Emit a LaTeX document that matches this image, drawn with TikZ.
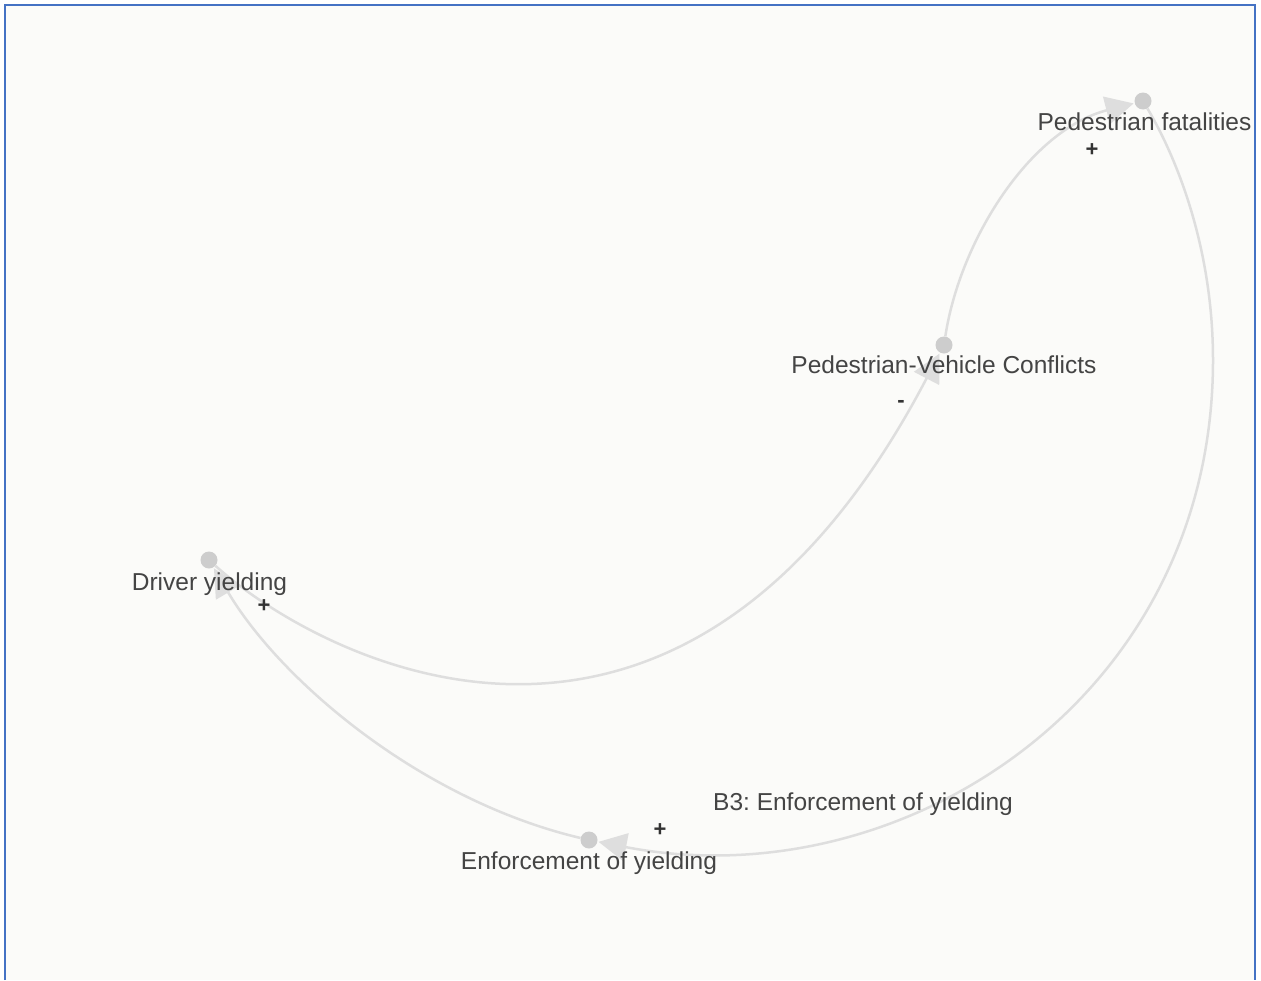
\documentclass[tikz,border=0pt]{standalone}
\usepackage{fontspec}
\setmainfont{Liberation Sans}
\usetikzlibrary{arrows.meta}
\definecolor{bg}{HTML}{FBFBF9}
\definecolor{frameblue}{HTML}{4472C4}
\definecolor{linkgray}{HTML}{DEDEDE}
\definecolor{dotgray}{HTML}{CDCDCD}
\definecolor{txt}{HTML}{444444}
\definecolor{signtxt}{HTML}{333333}
\pgfdeclarelayer{back}
\pgfdeclarelayer{links}
\pgfsetlayers{back,links,main}
\frenchspacing
\begin{document}
\begin{tikzpicture}[x=1pt,y=-1pt,
  element/.style={circle,fill=dotgray,minimum size=17pt,inner sep=0pt},
  elabel/.style={text=txt,font=\fontsize{24.5}{29}\selectfont,inner sep=0pt,anchor=base},
  link/.style={draw=linkgray,line width=2.5pt,
    -{Triangle[length=28pt,width=28pt,fill=linkgray]},shorten >=1pt},
  sign/.style={text=signtxt,font=\fontsize{22}{26}\selectfont\bfseries,inner sep=0pt}]
\useasboundingbox (0,0) rectangle (1261,980);

% page and frame
\begin{pgfonlayer}{back}
  \fill[white] (0,0) rectangle (1261,980);
  \fill[bg] (5,5) rectangle (1255,980);
  \draw[frameblue,line width=2.2pt] (5,980) -- (5,5) -- (1255,5) -- (1255,980);
\end{pgfonlayer}

% elements
\node[element] (pf)  at (1143,101) {};
\node[element] (pvc) at (944,345) {};
\node[element] (dy)  at (209,560) {};
\node[element] (ey)  at (589,840) {};

\node[elabel] (pflbl)  at (1144.5,130) {Pedestrian fatalities};
\node[elabel] (pvclbl) at (944,373) {Pedestrian-Vehicle Conflicts};
\node[elabel] (dylbl)  at (209.5,590) {Driver yielding};
\node[elabel] (eylbl)  at (589,869) {Enforcement of yielding};
\node[elabel] (loop)   at (863,810) {B3: Enforcement of yielding};

% connections
\begin{pgfonlayer}{links}
  \draw[link] (dy) .. controls (320,660) and (680,850) .. (pvc);
  \draw[link] (pvc) .. controls (960,240) and (1030,130) .. (pf);
  \draw[link] (pf) .. controls (1178,160) and (1213,250) .. (1213,360)
                   .. controls (1213,700) and (900,900) .. (ey);
  \draw[link] (ey) .. controls (420,800) and (280,680) .. (dy);
\end{pgfonlayer}

% polarities
\node[sign] (s1) at (1092,150) {+};
\node[sign] (s2) at (901,404) {-};
\node[sign] (s3) at (264,606) {+};
\node[sign] (s4) at (660,830) {+};
\end{tikzpicture}
\end{document}
